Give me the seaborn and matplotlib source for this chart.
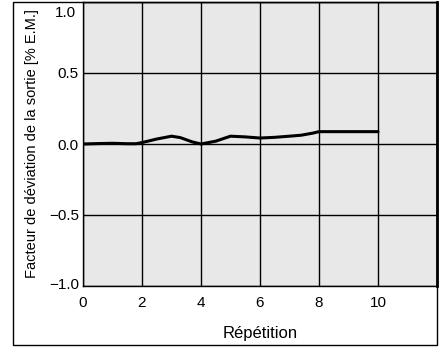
import matplotlib
matplotlib.use("Agg")
import matplotlib.pyplot as plt
import matplotlib.transforms as mtransforms
import seaborn as sns
import pandas as pd
from matplotlib.patches import Rectangle

repetition = [0, 0.5, 1, 1.5, 1.8, 2, 2.5, 3, 3.3, 3.7, 4, 4.5, 5, 5.5, 6, 6.5, 7, 7.4, 7.8, 8, 9, 10]
deviation = [0.0, 0.003, 0.005, 0.002, 0.002, 0.01, 0.035, 0.055, 0.045, 0.015, 0.0, 0.02, 0.055, 0.05, 0.042, 0.047, 0.055, 0.062, 0.077, 0.087, 0.087, 0.087]
xticks = [0, 2, 4, 6, 8, 10]
yticks = [-1.0, -0.5, 0.0, 0.5, 1.0]
xlabel = "Répétition"
ylabel = "Facteur de déviation de la sortie [% E.M.]"

sns.set_theme(style="white")
plt.rcParams['font.family'] = ['Liberation Sans', 'DejaVu Sans']

df = pd.DataFrame({"x": repetition, "y": deviation})

fig = plt.figure(figsize=(4.45, 3.47), dpi=100)
ax = fig.add_axes([83/445, 1-286/347, (437-83)/445, (286-2)/347])
ax.set_facecolor("#e8e8e8")

sns.lineplot(data=df, x="x", y="y", ax=ax, color="black", linewidth=2.2)

ax.set_xlim(0, 12)
ax.set_ylim(-1, 1)
ax.set_xticks(list(range(0, 13, 2)))
ax.set_xticklabels([str(t) for t in xticks] + [""])
ax.set_yticks(yticks)
ax.set_yticklabels([f"{t:.1f}".replace("-", "\u2212") for t in yticks])
ax.grid(True, color="black", linewidth=1.0)
ax.set_axisbelow(False)
ax.tick_params(axis="both", length=0, labelsize=11, colors="black")
ax.tick_params(axis="x", pad=7)
ax.tick_params(axis="y", pad=3)
for s in ["left", "bottom", "top"]:
    ax.spines[s].set_color("black")
    ax.spines[s].set_linewidth(1.0)
ax.spines["right"].set_color("black")
ax.spines["right"].set_linewidth(2.0)

ylabs = ax.get_yticklabels()
top_lab = ylabs[-1]
top_lab.set_va("top")
top_lab.set_transform(top_lab.get_transform() + mtransforms.ScaledTranslation(-2/72, -3/72, fig.dpi_scale_trans))
bot_lab = ylabs[0]
bot_lab.set_transform(bot_lab.get_transform() + mtransforms.ScaledTranslation(0, 2/72, fig.dpi_scale_trans))

ax.set_xlabel(xlabel, fontsize=12, color="black", labelpad=12)
ax.set_ylabel(ylabel, fontsize=10.5, color="black", labelpad=7)

fig.patches.append(Rectangle((13/445, 2/347), (437-13)/445, (345-2)/347,
                             transform=fig.transFigure, fill=False,
                             edgecolor="black", linewidth=1.0))

fig.savefig("out.png", dpi=100)
